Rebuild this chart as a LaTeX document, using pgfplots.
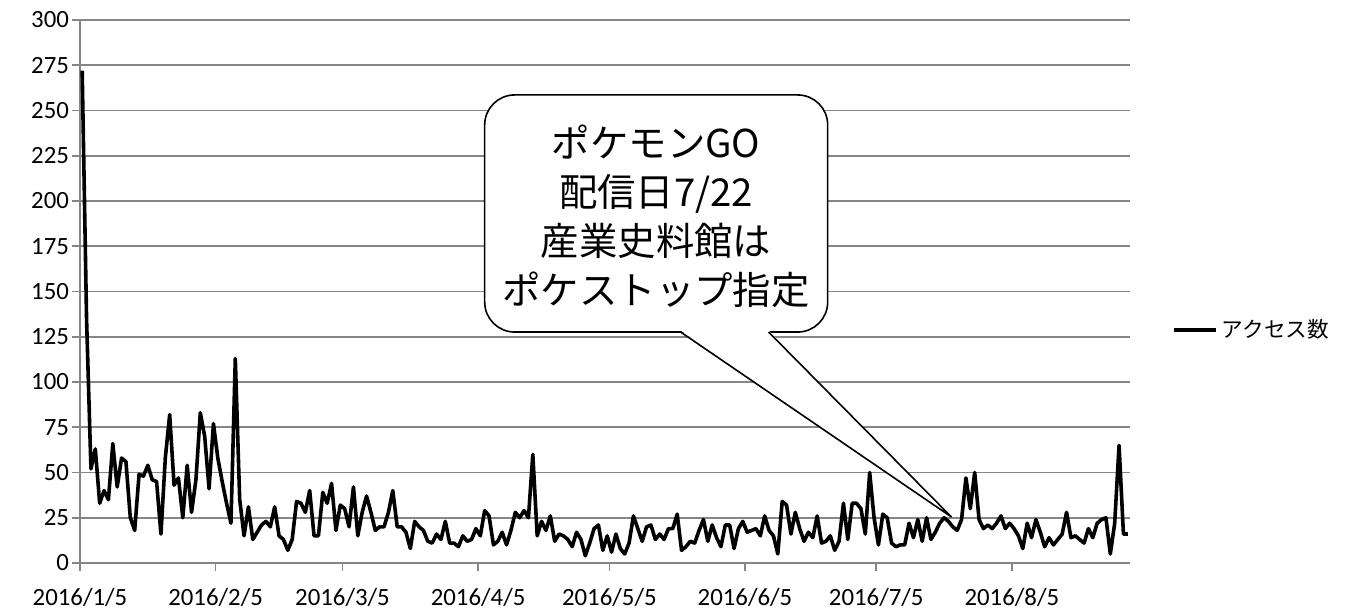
\documentclass[border=0pt]{standalone}
\usepackage{fontspec}
\setmainfont{Carlito}
\newfontfamily\jp{Noto Sans CJK JP}
\usepackage{pgfplots}
\pgfplotsset{compat=1.18}
\definecolor{gridgray}{RGB}{134,134,134}

\begin{document}
\begin{tikzpicture}
\begin{axis}[
    name=ax,
    scale only axis,
    width=525pt,
    height=271.5pt,
    xmin=-0.5, xmax=239.5,
    ymin=0, ymax=300,
    ytick={0,25,...,300},
    xtick={-0.5,30.5,59.5,90.5,120.5,151.5,181.5,212.5},
    xticklabels={2016/1/5,2016/2/5,2016/3/5,2016/4/5,2016/5/5,2016/6/5,2016/7/5,2016/8/5},
    axis lines*=left,
    axis line style={gridgray, line width=0.8pt},
    ymajorgrids=true,
    grid style={gridgray, line width=0.8pt},
    tick align=outside,
    major tick length=4pt,
    tick style={gridgray, line width=0.8pt},
    ticklabel style={font=\fontsize{12.4}{14}\selectfont},
    xticklabel style={yshift=-5pt},
    yticklabel style={xshift=2pt},
    /pgf/number format/assume math mode=true,
    legend style={at={(1.04,0.429)}, anchor=west, draw=none, fill=none,
        font=\jp\fontsize{10.8}{12}\selectfont, inner sep=0pt},
    legend cell align=left,
    legend image code/.code={\draw[#1] (0pt,0pt) -- (21pt,0pt);},
]

\addplot[black, line width=1.8pt, line join=round] coordinates {
(0,272)(1,135)(2,52)(3,63)(4,33)(5,40)(6,35)(7,66)(8,42)(9,58)
(10,56)(11,25)(12,18)(13,49)(14,48)(15,54)(16,46)(17,45)(18,16)(19,58)
(20,82)(21,43)(22,47)(23,25)(24,54)(25,28)(26,46)(27,83)(28,70)(29,41)
(30,77)(31,58)(32,45)(33,33)(34,22)(35,113)(36,35)(37,15)(38,31)(39,13)
(40,17)(41,21)(42,23)(43,20)(44,31)(45,15)(46,13)(47,7)(48,13)(49,34)
(50,33)(51,28)(52,40)(53,15)(54,15)(55,39)(56,33)(57,44)(58,18)(59,32)
(60,30)(61,20)(62,42)(63,15)(64,28)(65,37)(66,28)(67,18)(68,20)(69,20)
(70,28)(71,40)(72,20)(73,20)(74,17)(75,8)(76,23)(77,20)(78,18)(79,12)
(80,11)(81,16)(82,13)(83,23)(84,11)(85,11)(86,9)(87,15)(88,12)(89,13)
(90,19)(91,15)(92,29)(93,26)(94,10)(95,12)(96,17)(97,10)(98,18)(99,28)
(100,25)(101,29)(102,25)(103,60)(104,15)(105,23)(106,18)(107,26)(108,12)(109,16)
(110,15)(111,13)(112,9)(113,17)(114,13)(115,4)(116,11)(117,19)(118,21)(119,7)
(120,15)(121,6)(122,16)(123,8)(124,5)(125,11)(126,26)(127,19)(128,12)(129,20)
(130,21)(131,13)(132,16)(133,13)(134,19)(135,19)(136,27)(137,7)(138,9)(139,12)
(140,11)(141,18)(142,24)(143,12)(144,21)(145,14)(146,9)(147,21)(148,21)(149,8)
(150,19)(151,23)(152,17)(153,18)(154,19)(155,15)(156,26)(157,18)(158,15)(159,5)
(160,34)(161,32)(162,16)(163,28)(164,19)(165,12)(166,17)(167,14)(168,26)(169,11)
(170,12)(171,15)(172,7)(173,12)(174,33)(175,13)(176,33)(177,33)(178,30)(179,16)
(180,50)(181,25)(182,10)(183,27)(184,25)(185,11)(186,9)(187,10)(188,10)(189,22)
(190,14)(191,24)(192,12)(193,25)(194,13)(195,17)(196,22)(197,25)(198,23)(199,20)
(200,18)(201,24)(202,47)(203,30)(204,50)(205,24)(206,19)(207,21)(208,19)(209,22)
(210,26)(211,19)(212,22)(213,19)(214,15)(215,8)(216,22)(217,14)(218,24)(219,17)
(220,9)(221,14)(222,10)(223,13)(224,16)(225,28)(226,14)(227,15)(228,13)(229,11)
(230,19)(231,14)(232,22)(233,24)(234,25)(235,5)(236,22)(237,65)(238,16)(239,16)
};
\addlegendentry{アクセス数}

% callout box
\draw[black, line width=0.8pt, fill=white, rounded corners=15pt]
    (axis cs:92.0,127.6) rectangle (axis cs:170.4,258.6);
\fill[white] (axis cs:136.8,128.4) -- (axis cs:198.7,25.4) -- (axis cs:156.9,128.4) -- cycle;
\draw[black, line width=0.8pt] (axis cs:136.8,127.6) -- (axis cs:198.7,25.4) -- (axis cs:156.9,127.6);
\node[align=center, font=\jp\fontsize{19.2}{24.5}\selectfont]
    at (axis cs:131.2,191.8) {ポケモンGO\\配信日7/22\\産業史料館は\\ポケストップ指定};
\end{axis}
\path ([xshift=-40pt,yshift=-22.5pt]ax.south west) rectangle ([xshift=110.5pt,yshift=10pt]ax.north east);
\end{tikzpicture}
\end{document}
